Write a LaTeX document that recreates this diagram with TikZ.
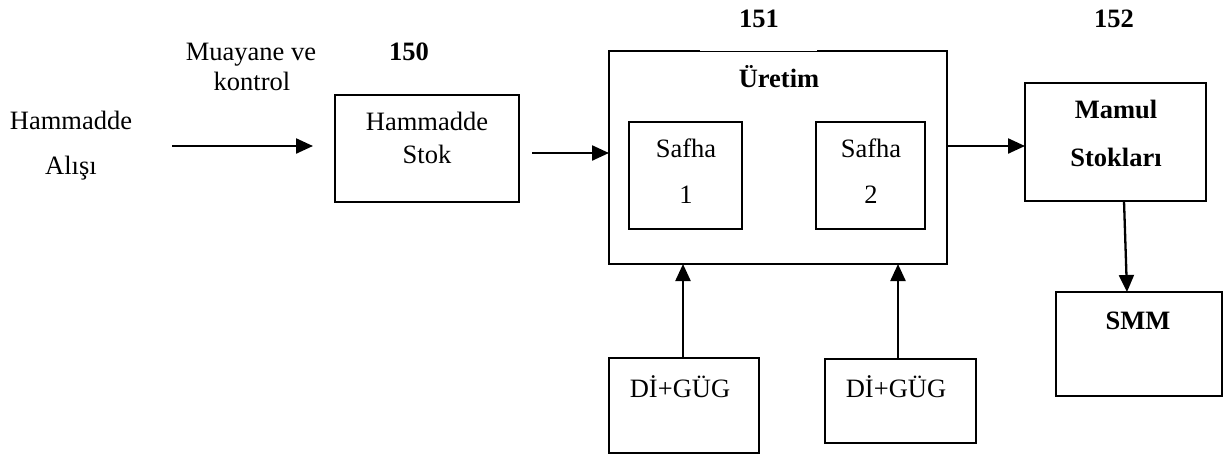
\documentclass[tikz,border=0pt]{standalone}
\usepackage{fontspec}
\setmainfont{Liberation Serif}
\usetikzlibrary{arrows.meta}
\begin{document}
\begin{tikzpicture}[x=1pt,y=-1pt,
  box/.style={draw,line width=1.6pt,inner sep=0pt,outer sep=0pt,anchor=north west},
  txt/.style={inner sep=0pt,anchor=base,font=\fontsize{26.5}{30}\selectfont},
  btxt/.style={txt,font=\fontsize{26.5}{30}\selectfont\bfseries},
  arr/.style={line width=2.3pt,-{Triangle[length=17pt,width=15pt]}}]
\useasboundingbox (0,0) rectangle (1226,456);

% boxes
\node[box,minimum width=184pt,minimum height=107pt] (hs)  at (335,95)  {};
\node[box,minimum width=338pt,minimum height=213pt] (ur)  at (609,51)  {};
\node[box,minimum width=113pt,minimum height=107pt] (s1)  at (629,122) {};
\node[box,minimum width=109pt,minimum height=107pt] (s2)  at (816,122) {};
\node[box,minimum width=181pt,minimum height=118pt] (mm)  at (1025,83) {};
\node[box,minimum width=166pt,minimum height=104pt] (smm) at (1056,292) {};
\node[box,minimum width=150pt,minimum height=95pt]  (dg1) at (609,358) {};
\node[box,minimum width=151pt,minimum height=84pt]  (dg2) at (825,359) {};

% thinner stretch of the top edge of the production box
\draw[white,line width=2.2pt] ([xshift=91pt]ur.north west) -- ([xshift=208pt]ur.north west);
\draw[line width=0.9pt] ([xshift=91pt,yshift=-0.8pt]ur.north west) -- ([xshift=208pt,yshift=-0.8pt]ur.north west);

% texts
\node[txt]  (ha1) at (71,129)   {Hammadde};
\node[txt]  (ha2) at (71,174)   {Alışı};
\node[txt]  (mk1) at (251,60)   {Muayane ve};
\node[txt]  (mk2) at (252,90)   {kontrol};
\node[btxt] (n150) at (409,60)  {150};
\node[txt]  (hs1) at (427,130)  {Hammadde};
\node[txt]  (hs2) at (427,163)  {Stok};
\node[btxt] (n151) at (759,27)  {151};
\node[btxt] (n152) at (1114,27) {152};
\node[btxt] (urt) at (779,87)   {Üretim};
\node[txt]  (s1a) at (686,157)  {Safha};
\node[txt]  (s1b) at (686,203)  {1};
\node[txt]  (s2a) at (871,157)  {Safha};
\node[txt]  (s2b) at (871,203)  {2};
\node[btxt] (mm1) at (1116,118) {Mamul};
\node[btxt] (mm2) at (1116,166) {Stokları};
\node[btxt] (smmt) at (1138,329) {SMM};
\node[txt]  (dg1t) at (680,397) {Dİ+GÜG};
\node[txt]  (dg2t) at (896,397) {Dİ+GÜG};

% connectors
\coordinate (inS) at (172,146);
\coordinate (inE) at (313,146);
\draw[arr] (inS) -- (inE);

\coordinate (hsOut) at (532,153);
\draw[arr] (hsOut) -- (hsOut -| ur.west);

\coordinate (lvl) at (0,146);
\draw[arr] (lvl -| ur.east) -- (lvl -| mm.west);

\draw[arr] ([xshift=8.5pt]mm.south) -- ([xshift=-12pt]smm.north);

\draw[arr] ([xshift=-1pt]dg1.north) -- ([xshift=-1pt]dg1.north |- ur.south);
\draw[arr] ([xshift=-2.5pt]dg2.north) -- ([xshift=-2.5pt]dg2.north |- ur.south);
\end{tikzpicture}
\end{document}
